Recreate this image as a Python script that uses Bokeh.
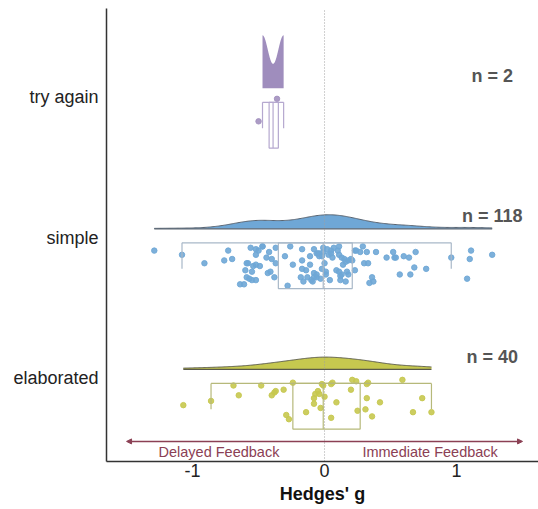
import numpy as np
from bokeh.plotting import figure
from bokeh.models import Range1d, FixedTicker, Arrow, NormalHead
from bokeh.embed import file_html
from bokeh.resources import INLINE
from bokeh.core.properties import value

# ---------------- data ----------------
categories = ["elaborated", "simple", "try again"]
n_labels = ["n = 40", "n = 118", "n = 2"]
x_tick_labels = ["-1", "0", "1"]
feedback_labels = ["Delayed Feedback", "Immediate Feedback"]
feedback_x = [-0.8, 0.8]

simple_g = [-1.29, -1.08, -0.91, -0.76, -0.73, -0.70, -0.64, -0.61, -0.60, -0.59,
            -0.58, -0.56, -0.55, -0.54, -0.52, -0.52, -0.52, -0.50, -0.49, -0.47,
            -0.44, -0.43, -0.42, -0.41, -0.40, -0.38, -0.37, -0.37, -0.30, -0.28,
            -0.26, -0.18, -0.17, -0.17, -0.16, -0.14, -0.11, -0.11, -0.10, -0.08,
            -0.08, -0.06, -0.05, -0.04, -0.03, -0.02, -0.01, -0.01, 0.00, 0.01,
            0.01, 0.02, 0.03, 0.04, 0.05, 0.05, 0.06, 0.07, 0.09, 0.10,
            0.11, 0.11, 0.12, 0.12, 0.13, 0.14, 0.15, 0.16, 0.17, 0.18,
            0.18, 0.20, 0.21, 0.23, 0.23, 0.24, 0.27, 0.29, 0.30, 0.32,
            0.33, 0.34, 0.36, 0.37, 0.39, 0.47, 0.52, 0.53, 0.54, 0.57,
            0.60, 0.64, 0.65, 0.68, 0.69, 0.77, 0.96, 1.08, 1.10, 1.11,
            1.27, -0.47, -0.59, -0.52, -0.55, -0.57, -0.24, -0.17, -0.13, -0.08,
            -0.09, -0.06, -0.04, -0.02, -0.06, 0.11, 0.13, 0.16]
simple_jitter = [0.09, 0.12, 0.18, 0.16, 0.09, 0.15, 0.33, 0.33, 0.23, 0.28,
                 0.18, 0.07, 0.30, 0.20, 0.30, 0.08, 0.12, 0.09, 0.20, 0.06,
                 0.14, 0.25, 0.10, 0.24, 0.15, 0.28, 0.07, 0.18, 0.13, 0.34,
                 0.06, 0.28, 0.16, 0.08, 0.31, 0.23, 0.19, 0.13, 0.30, 0.08,
                 0.25, 0.28, 0.11, 0.13, 0.29, 0.22, 0.07, 0.10, 0.18, 0.24,
                 0.26, 0.08, 0.12, 0.30, 0.09, 0.11, 0.14, 0.07, 0.23, 0.09,
                 0.06, 0.12, 0.27, 0.30, 0.14, 0.19, 0.15, 0.17, 0.24, 0.26,
                 0.16, 0.15, 0.16, 0.09, 0.23, 0.09, 0.10, 0.06, 0.18, 0.10,
                 0.18, 0.32, 0.28, 0.31, 0.10, 0.14, 0.10, 0.14, 0.14, 0.26,
                 0.13, 0.14, 0.26, 0.21, 0.10, 0.22, 0.14, 0.29, 0.15, 0.09,
                 0.12, 0.06, 0.18, 0.19, 0.24, 0.29, 0.19, 0.22, 0.28, 0.28,
                 0.31, 0.11, 0.11, 0.13, 0.26, 0.24, 0.26, 0.31]

elaborated_g = [-1.07, -0.86, -0.69, -0.65, -0.48, -0.40, -0.38, -0.37, -0.31, -0.29,
                -0.27, -0.24, -0.14, -0.08, -0.07, -0.08, -0.05, -0.04, -0.03, -0.02,
                0.00, 0.05, 0.06, 0.05, 0.09, 0.20, 0.21, 0.24, 0.25, 0.31,
                0.32, 0.32, 0.33, 0.36, 0.42, 0.59, 0.67, 0.74, 0.81, -0.01]
elaborated_jitter = [0.19, 0.16, 0.05, 0.12, 0.05, 0.12, 0.10, 0.09, 0.08, 0.26,
                     0.29, 0.03, 0.24, 0.14, 0.11, 0.18, 0.09, 0.11, 0.21, 0.04,
                     0.13, 0.04, 0.03, 0.28, 0.17, 0.08, 0.01, 0.02, 0.23, 0.22,
                     0.14, 0.04, 0.03, 0.27, 0.17, 0.01, 0.24, 0.14, 0.24, 0.05]

try_again_g = [-0.47, -0.31]
try_again_jitter = [0.17, 0.01]
try_again_xjitter = [-0.03, -0.05]

# box statistics (elaborated, simple, try again)
box_low = [-0.86, -1.08, -0.47]
box_q1 = [-0.24, -0.35, -0.42]
box_median = [-0.01, -0.01, -0.39]
box_q3 = [0.27, 0.21, -0.35]
box_high = [0.81, 0.96, -0.31]

# ---------------- styles ----------------
FONT = "Liberation Sans"
fill_colors = ["#c6c84f", "#6fa7d6", "#9f8dbd"]
point_colors = ["#c6c84f", "#6fa7d6", "#a391bf"]
box_colors = ["#b6b97a", "#a8b8c8", "#b5a8cf"]
outline_colors = ["#5a5a4a", "#5a6470", None]
dens_heights = [0.087, 0.10, 0.377]
ARROW_COLOR = "#8b4054"

cat_pos = [i + 1 for i in range(len(categories))]
DENS_BASE = 0.065
BOX_TOP = 0.035
BOX_BOT = 0.36
CAP_BOT = 0.22

p = figure(width=538, height=509, output_backend="svg", toolbar_location=None,
           x_range=Range1d(-1.652, 1.621), y_range=Range1d(0.409, 3.633),
           min_border_left=106, min_border_right=0, min_border_top=8,
           min_border_bottom=48)
p.outline_line_color = None
p.grid.grid_line_color = None
p.background_fill_color = "white"
p.border_fill_color = "white"


def kde(vals, grid):
    v = np.asarray(vals, dtype=float)
    n = len(v)
    sd = v.std(ddof=1)
    q75, q25 = np.percentile(v, [75, 25])
    bw = 0.9 * min(sd, (q75 - q25) / 1.34) * n ** -0.2
    z = (grid[:, None] - v[None, :]) / bw
    return np.exp(-0.5 * z ** 2).sum(axis=1) / (n * bw * np.sqrt(2 * np.pi))


groups_g = [elaborated_g, simple_g, try_again_g]
groups_j = [elaborated_jitter, simple_jitter, try_again_jitter]
groups_dx = [[0.0] * len(elaborated_g), [0.0] * len(simple_g), try_again_xjitter]

# densities
for i, c in enumerate(cat_pos):
    g = groups_g[i]
    grid = np.linspace(min(g), max(g), 300)
    d = kde(g, grid)
    base = c + DENS_BASE
    top = base + d / d.max() * dens_heights[i]
    p.varea(x=grid, y1=np.full_like(grid, base), y2=top,
            fill_color=fill_colors[i], fill_alpha=1.0)
    if outline_colors[i]:
        p.line(x=grid, y=top, line_color=outline_colors[i], line_width=1)
        p.line(x=[grid[0], grid[-1]], y=[base, base],
               line_color=outline_colors[i], line_width=1.2)

# zero reference line
p.line(x=[0, 0], y=[0.409, 3.633], line_color="#a0a0a0", line_width=1,
       line_dash="1 2")

# points
for i, c in enumerate(cat_pos):
    xs = [g + d for g, d in zip(groups_g[i], groups_dx[i])]
    ys = [c - j for j in groups_j[i]]
    p.scatter(x=xs, y=ys, size=5.5, fill_color=point_colors[i],
              line_color=point_colors[i], fill_alpha=0.9, line_alpha=0.9)

# boxplots
for i, c in enumerate(cat_pos):
    col = box_colors[i]
    p.quad(left=[box_q1[i]], right=[box_q3[i]], top=[c - BOX_TOP],
           bottom=[c - BOX_BOT], fill_color=None, line_color=col, line_width=1.2)
    p.segment(x0=[box_low[i]], y0=[c - BOX_TOP], x1=[box_high[i]], y1=[c - BOX_TOP],
              line_color=col, line_width=1.2)
    p.segment(x0=[box_low[i], box_high[i]], y0=[c - BOX_TOP] * 2,
              x1=[box_low[i], box_high[i]], y1=[c - CAP_BOT] * 2,
              line_color=col, line_width=1.2)
    p.segment(x0=[box_median[i]], y0=[c - BOX_TOP], x1=[box_median[i]],
              y1=[c - BOX_BOT], line_color=col, line_width=1.2)

# n labels
p.text(x=[1.27] * 3, y=[c + 0.155 for c in cat_pos], text=n_labels,
       text_font=value(FONT), text_font_style="bold", text_font_size="18px",
       text_color="#555555", text_align="center", text_baseline="middle")

# feedback arrow
arrow_y = 1 - 0.448
p.add_layout(Arrow(start=NormalHead(size=5, fill_color=ARROW_COLOR, line_color=ARROW_COLOR),
                   end=NormalHead(size=5, fill_color=ARROW_COLOR, line_color=ARROW_COLOR),
                   x_start=-1.5, y_start=arrow_y, x_end=1.5, y_end=arrow_y,
                   line_color=ARROW_COLOR, line_width=1.5))
p.text(x=feedback_x, y=[1 - 0.52] * 2, text=feedback_labels,
       text_font=value(FONT), text_font_size="14.5px", text_color=ARROW_COLOR,
       text_align="center", text_baseline="middle")

# axes
p.xaxis.ticker = FixedTicker(ticks=[float(t) for t in x_tick_labels])
p.xaxis.major_label_overrides = {float(t): t for t in x_tick_labels}
p.yaxis.ticker = FixedTicker(ticks=cat_pos)
p.yaxis.major_label_overrides = {c: name for c, name in zip(cat_pos, categories)}
p.xaxis.axis_label = "Hedges' g"
for ax in (p.xaxis, p.yaxis):
    ax.axis_line_color = "#333333"
    ax.axis_line_width = 1.5
    ax.major_tick_line_color = None
    ax.minor_tick_line_color = None
    ax.major_tick_out = 0
    ax.major_tick_in = 0
    ax.major_label_text_font = FONT
    ax.major_label_text_font_size = "18px"
    ax.major_label_text_color = "#222222"
p.yaxis.major_label_standoff = 8
p.xaxis.major_label_standoff = 2
p.xaxis.axis_label_text_font = FONT
p.xaxis.axis_label_text_font_size = "18px"
p.xaxis.axis_label_text_font_style = "bold"
p.xaxis.axis_label_text_color = "#111111"
p.xaxis.axis_label_standoff = 4

open("out.html", "w").write(file_html(p, INLINE))
